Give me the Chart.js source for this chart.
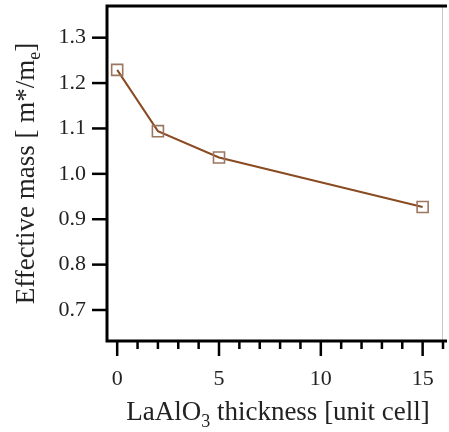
<!DOCTYPE html>
<html>
<head>
<meta charset="utf-8">
<script src="https://cdn.jsdelivr.net/npm/chart.js@4"></script>
<style>
  html, body { margin: 0; padding: 0; background: #fff; }
  #wrap { width: 449px; height: 432px; }
</style>
</head>
<body>
<div id="wrap"><canvas id="chart" width="449" height="432"></canvas></div>
<script>
const thickness = [0, 2, 5, 15];
const effMass = [1.229, 1.094, 1.036, 0.927];
const xMajorTicks = [0, 5, 10, 15];
const yTicks = [0.7, 0.8, 0.9, 1.0, 1.1, 1.2, 1.3];

const FONT = "'Liberation Serif', 'Times New Roman', serif";
const LINE = '#8a4a22';
const MARK = '#9c7660';

// axes frame, tick marks and titles (titles need sub-scripts)
const framePlugin = {
    id: 'frame',
    afterDraw(chart) {
        const { ctx, chartArea: a, scales } = chart;
        ctx.save();
        ctx.lineCap = 'butt';

        // right edge, faint
        ctx.lineWidth = 1;
        ctx.strokeStyle = '#c8c8c8';
        ctx.beginPath();
        ctx.moveTo(a.right - 0.5, a.top);
        ctx.lineTo(a.right - 0.5, a.bottom);
        ctx.stroke();

        ctx.strokeStyle = '#000';
        ctx.lineWidth = 3;
        ctx.beginPath();
        ctx.moveTo(a.left, a.bottom);
        ctx.lineTo(a.left, a.top);
        ctx.lineTo(a.right + 4, a.top);
        ctx.moveTo(a.left - 1.5, a.bottom);
        ctx.lineTo(a.right + 4, a.bottom);
        ctx.stroke();

        ctx.lineWidth = 2.5;
        scales.y.ticks.forEach(t => {
            const y = scales.y.getPixelForValue(t.value);
            ctx.beginPath();
            ctx.moveTo(a.left, y);
            ctx.lineTo(a.left - 15, y);
            ctx.stroke();
        });
        scales.x.ticks.forEach(t => {
            const x = scales.x.getPixelForValue(t.value);
            const len = xMajorTicks.includes(t.value) ? 15 : 8;
            ctx.beginPath();
            ctx.moveTo(x, a.bottom);
            ctx.lineTo(x, a.bottom + len);
            ctx.stroke();
        });

        ctx.fillStyle = '#222';
        ctx.textBaseline = 'alphabetic';

        // x title
        const big = '27px ' + FONT, small = '18px ' + FONT;
        const parts = [['LaAlO', big, 0], ['3', small, 7], [' thickness [unit cell]', big, 0]];
        let w = 0;
        parts.forEach(p => { ctx.font = p[1]; w += ctx.measureText(p[0]).width; });
        let x = (a.left + a.right) / 2 - w / 2 + 3;
        const by = 420;
        parts.forEach(p => {
            ctx.font = p[1];
            ctx.fillText(p[0], x, by + p[2]);
            x += ctx.measureText(p[0]).width;
        });

        // y title
        ctx.translate(34, (a.top + a.bottom) / 2);
        ctx.rotate(-Math.PI / 2);
        const yparts = [['Effective mass [ m*/m', big, 0], ['e', small, 6], [']', big, 0]];
        w = 0;
        yparts.forEach(p => { ctx.font = p[1]; w += ctx.measureText(p[0]).width; });
        x = -w / 2;
        yparts.forEach(p => {
            ctx.font = p[1];
            ctx.fillText(p[0], x, p[2]);
            x += ctx.measureText(p[0]).width;
        });
        ctx.restore();
    }
};

function noPad(s) {
    s.paddingTop = 0;
    s.paddingBottom = 0;
    s.paddingLeft = 0;
    s.paddingRight = 0;
}

new Chart(document.getElementById('chart'), {
    type: 'line',
    data: {
        datasets: [{
            data: thickness.map((t, i) => ({ x: t, y: effMass[i] })),
            borderColor: LINE,
            borderWidth: 2,
            pointStyle: 'rect',
            pointRadius: 7.8,
            pointBorderWidth: 1.6,
            pointBorderColor: MARK,
            pointBackgroundColor: 'rgba(0,0,0,0)',
            tension: 0
        }]
    },
    options: {
        responsive: false,
        animation: false,
        events: [],
        layout: { autoPadding: false, padding: { top: 6, right: 6, left: 0, bottom: 0 } },
        plugins: { legend: { display: false }, tooltip: { enabled: false } },
        scales: {
            x: {
                type: 'linear',
                min: -0.5,
                max: 16,
                grid: { display: false, drawTicks: false },
                border: { display: false },
                afterBuildTicks: s => {
                    const t = [];
                    for (let v = 0; v <= 16; v++) t.push({ value: v });
                    s.ticks = t;
                },
                afterFit: s => { s.height = 91; noPad(s); },
                ticks: {
                    autoSkip: false,
                    maxRotation: 0,
                    padding: 25,
                    color: '#222',
                    font: { family: FONT, size: 22 },
                    callback: v => xMajorTicks.includes(v) ? String(v) : ''
                }
            },
            y: {
                min: 0.6317,
                max: 1.3698,
                grid: { display: false, drawTicks: false },
                border: { display: false },
                afterBuildTicks: s => { s.ticks = yTicks.map(v => ({ value: v })); },
                afterFit: s => { s.width = 107; noPad(s); },
                ticks: {
                    padding: 21,
                    color: '#222',
                    font: { family: FONT, size: 22 },
                    callback: v => v.toFixed(1)
                }
            }
        }
    },
    plugins: [framePlugin]
});
</script>
</body>
</html>
